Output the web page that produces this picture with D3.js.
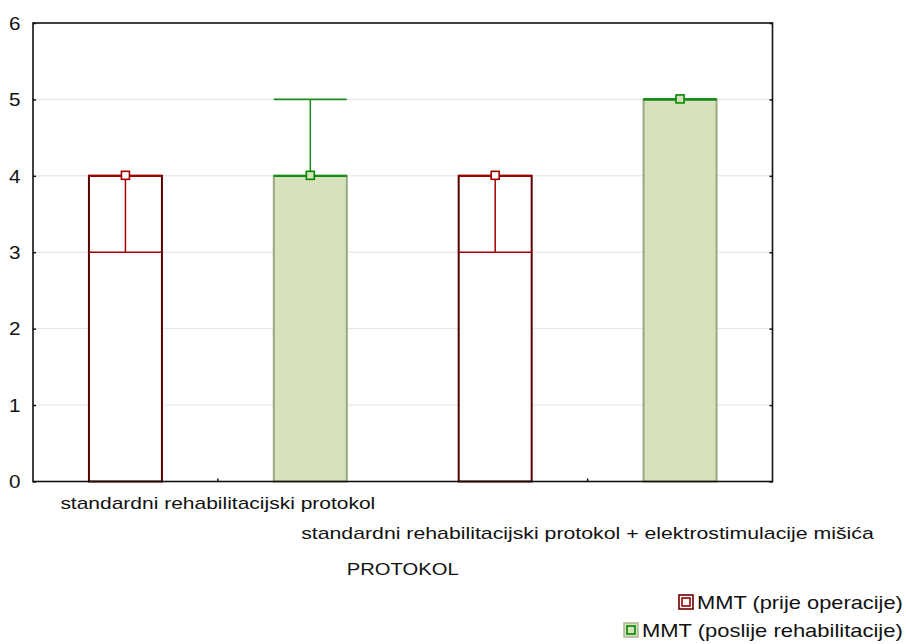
<!DOCTYPE html>
<html><head><meta charset="utf-8">
<script src="https://cdn.jsdelivr.net/npm/d3@7"></script>
<style>
html,body{margin:0;padding:0;background:#fff;}
text{font-family:"Liberation Sans",Arial,sans-serif;fill:#111;}
</style></head>
<body><svg id="c" width="906" height="644"></svg>
<script>
const categories = ["standardni rehabilitacijski protokol", "standardni rehabilitacijski protokol + elektrostimulacije mišića"];
const seriesNames = ["MMT (prije operacije)", "MMT (poslije rehabilitacije)"];
const medians = [[4, 4], [4, 5]];   // [series][category]
const lows    = [[3, 3], [4, 5]];
const highs   = [[4, 4], [5, 5]];
const yTicks = [0, 1, 2, 3, 4, 5, 6];
const axisTitle = "PROTOKOL";

const svg = d3.select("#c");
const L = 33, R = 772.5, T = 23, B = 481.5;
const x = d3.scaleBand().domain(categories).range([L, R]);
const xs = d3.scalePoint().domain(seriesNames).range([0, x.bandwidth()]).padding(0.5);
const y = d3.scaleLinear().domain([0, 6]).range([B, T]);
const bw = 73;

const styles = [
  {fill:"#ffffff", side:"#560000", top:"#8b0000", whisk:"#a00000", mk:"#a00000", mkFill:"#ffffff"},
  {fill:"#d7e2bd", side:"#9aa882", top:"#008a00", whisk:"#1a8c1a", mk:"#008a00", mkFill:"#d7e2bd"}
];

// stretched text helper: places text so it spans [left, left+width] on baseline
function stretchText(str, left, baseline, width, size) {
  const t = svg.append("text").attr("font-size", size).text(str);
  const w = t.node().getComputedTextLength();
  t.attr("transform", `translate(${left},${baseline}) scale(${width / w},1)`);
  return t;
}

// grid
svg.append("g").selectAll("line").data(yTicks.filter(d => d > 0 && d < 6)).join("line")
  .attr("x1", L).attr("x2", R).attr("y1", d => y(d)).attr("y2", d => y(d))
  .attr("stroke", "#e2e2e2").attr("stroke-width", 1);

// bars
const data = [];
seriesNames.forEach((s, si) => categories.forEach((c, ci) => data.push({s, si, c, ci,
  m: medians[si][ci], lo: lows[si][ci], hi: highs[si][ci]})));

const g = svg.append("g");
data.forEach(d => {
  const st = styles[d.si];
  const cx = x(d.c) + xs(d.s);
  const x0 = cx - bw / 2, x1 = cx + bw / 2;
  g.append("rect").attr("x", x0).attr("y", y(d.m)).attr("width", bw).attr("height", y(0) - y(d.m))
    .attr("fill", st.fill).attr("stroke", st.side).attr("stroke-width", 2);
  g.append("line").attr("x1", x0).attr("x2", x1).attr("y1", y(d.m)).attr("y2", y(d.m))
    .attr("stroke", st.top).attr("stroke-width", 2.2);
  // whisker
  g.append("line").attr("x1", cx).attr("x2", cx).attr("y1", y(d.lo)).attr("y2", y(d.hi))
    .attr("stroke", st.whisk).attr("stroke-width", 1.5);
  [d.lo, d.hi].forEach(v => g.append("line").attr("x1", x0).attr("x2", x1).attr("y1", y(v)).attr("y2", y(v))
    .attr("stroke", st.whisk).attr("stroke-width", 1.6));
  g.append("rect").attr("x", cx - 4).attr("y", y(d.m) - 4.5).attr("width", 8).attr("height", 8)
    .attr("fill", st.mkFill).attr("stroke", st.mk).attr("stroke-width", 1.6);
});

// frame
svg.append("rect").attr("x", L).attr("y", T).attr("width", R - L).attr("height", B - T)
  .attr("fill", "none").attr("stroke", "#111").attr("stroke-width", 1.6);

// y axis left (inward ticks), labels stretched horizontally
const yAxisL = svg.append("g").attr("transform", `translate(${L},0)`)
  .call(d3.axisLeft(y).tickValues(yTicks).tickFormat(d3.format("d")).tickSize(-3).tickPadding(12));
yAxisL.select(".domain").remove();
yAxisL.selectAll("line").attr("stroke", "#111").attr("stroke-width", 1.5);
yAxisL.selectAll("text").attr("font-size", 17.5).attr("fill", "#111")
  .attr("font-family", "Liberation Sans, Arial").attr("x", 0).attr("dy", "0.36em")
  .attr("transform", "translate(-12.5,0) scale(1.18,1)");
const yAxisR = svg.append("g").attr("transform", `translate(${R},0)`)
  .call(d3.axisRight(y).tickValues(yTicks).tickFormat("").tickSize(-3));
yAxisR.select(".domain").remove();
yAxisR.selectAll("line").attr("stroke", "#111").attr("stroke-width", 1.5);

// x axis
const xAxis = svg.append("g").attr("transform", `translate(0,${B})`)
  .call(d3.axisBottom(x).tickSize(-3).tickFormat(""));
xAxis.select(".domain").remove();
xAxis.selectAll("line").attr("stroke", "#111").attr("stroke-width", 1.5);

const catLabelY = [509, 539];
const catLabelW = [315, 573];
categories.forEach((c, i) => {
  const cx = x(c) + x.bandwidth() / 2;
  stretchText(c, cx - catLabelW[i] / 2, catLabelY[i], catLabelW[i], 16);
});
stretchText(axisTitle, (L + R) / 2 - 56, 575, 112, 16.5);

// legend
const legBase = [609, 637];
const legW = [206, 261];
seriesNames.forEach((s, i) => {
  const st = styles[i];
  const tx = 903 - legW[i];
  stretchText(s, tx, legBase[i], legW[i], 18.5);
  const bx = tx - 18, by = legBase[i] - 14;
  svg.append("rect").attr("x", bx).attr("y", by).attr("width", 14).attr("height", 14)
    .attr("fill", i === 0 ? "#ffffff" : "#d7e2bd").attr("stroke", i === 0 ? "#6b0000" : "#b0bc98").attr("stroke-width", 1.6);
  svg.append("rect").attr("x", bx + 3).attr("y", by + 3).attr("width", 8).attr("height", 8)
    .attr("fill", "none").attr("stroke", st.mk).attr("stroke-width", 1.6);
});
</script></body></html>
